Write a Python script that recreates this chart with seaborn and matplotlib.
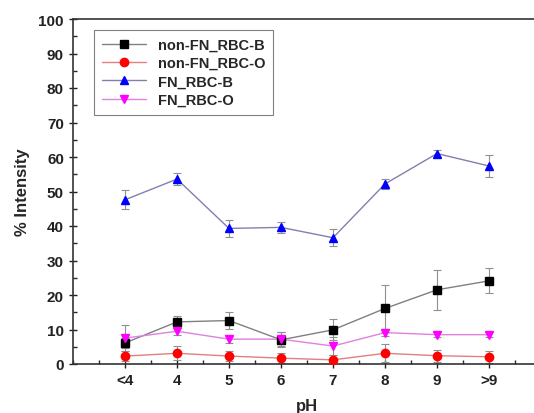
import matplotlib
matplotlib.use("Agg")
import matplotlib.pyplot as plt
import seaborn as sns
import pandas as pd
import numpy as np
from matplotlib.ticker import MultipleLocator, AutoMinorLocator
from matplotlib.lines import Line2D

sns.set_style("ticks")
plt.rcParams['font.family'] = ['Liberation Sans', 'DejaVu Sans']
plt.rcParams['font.weight'] = 'bold'

categories = ["<4", "4", "5", "6", "7", "8", "9", ">9"]
nonfn_b = [6.1, 12.2, 12.6, 7.0, 9.9, 16.1, 21.5, 24.1]
nonfn_b_err = [1.5, 1.7, 2.4, 2.2, 3.0, 6.8, 5.8, 3.6]
nonfn_o = [2.3, 3.1, 2.3, 1.7, 1.2, 3.1, 2.4, 2.1]
nonfn_o_err = [1.5, 2.0, 1.5, 1.5, 1.5, 2.6, 1.7, 1.8]
fn_b = [47.6, 53.6, 39.3, 39.6, 36.6, 52.2, 61.0, 57.4]
fn_b_err = [2.8, 1.8, 2.5, 1.6, 2.5, 1.5, 1.0, 3.3]
fn_o = [7.5, 9.5, 7.2, 7.2, 5.2, 9.1, 8.5, 8.5]
fn_o_err = [3.7, 1.0, 1.0, 2.0, 2.5, 1.0, 0.8, 0.8]

series = [
    ("non-FN_RBC-B", nonfn_b, nonfn_b_err, "s", "black", "#808080"),
    ("non-FN_RBC-O", nonfn_o, nonfn_o_err, "o", "red", "#e08080"),
    ("FN_RBC-B", fn_b, fn_b_err, "^", "blue", "#8080b0"),
    ("FN_RBC-O", fn_o, fn_o_err, "v", "magenta", "#e080e0"),
]

fig = plt.figure(figsize=(5.34, 4.14), dpi=100)
ax = fig.add_axes([73/534, 49/414, 468/534, 345/414])

pos = np.arange(len(categories))
for name, vals, errs, mk, col, lcol in series:
    df = pd.DataFrame({"x": pos, "y": vals})
    sns.lineplot(data=df, x="x", y="y", ax=ax, color=lcol, linewidth=1.0,
                 legend=False)
    ax.errorbar(pos, vals, yerr=errs, fmt="none", ecolor="#909090",
                elinewidth=0.8, capsize=3, capthick=0.8, zorder=2)
    ax.plot(pos, vals, linestyle="none", marker=mk, markersize=6,
            color=col, zorder=3)

handles = [Line2D([0], [0], color=lcol, lw=1.0, marker=mk, markersize=6,
                  markerfacecolor=col, markeredgecolor=col)
           for name, vals, errs, mk, col, lcol in series]
labels = [s[0] for s in series]
leg = ax.legend(handles, labels, loc="upper left", bbox_to_anchor=(0.03, 0.99),
                frameon=True, fancybox=False, edgecolor="#606060",
                prop={"weight": "bold", "size": 10.5}, handlelength=3,
                borderpad=0.55, labelspacing=0.3)
leg.get_frame().set_linewidth(0.8)

ax.set_xlim(-1, 8)
ax.set_ylim(0, 100)
ax.set_xticks(pos)
ax.set_xticklabels(categories)
ax.yaxis.set_major_locator(MultipleLocator(10))
ax.yaxis.set_minor_locator(AutoMinorLocator(2))
ax.xaxis.set_minor_locator(MultipleLocator(0.5))
ax.tick_params(axis="both", which="major", direction="inout", length=6,
               width=1, labelsize=11, colors="#222222")
ax.tick_params(axis="both", which="minor", direction="in", length=3, width=1)
for lab in ax.get_xticklabels() + ax.get_yticklabels():
    lab.set_fontweight("bold")

for sp in ["left", "bottom", "top"]:
    ax.spines[sp].set_color("#333333")
    ax.spines[sp].set_linewidth(1.2)
ax.spines["right"].set_visible(False)

ax.set_xlabel("pH", fontsize=12, fontweight="bold", labelpad=8)
ax.set_ylabel("% Intensity", fontsize=12, fontweight="bold", labelpad=6)

fig.savefig("out.png", dpi=100)
